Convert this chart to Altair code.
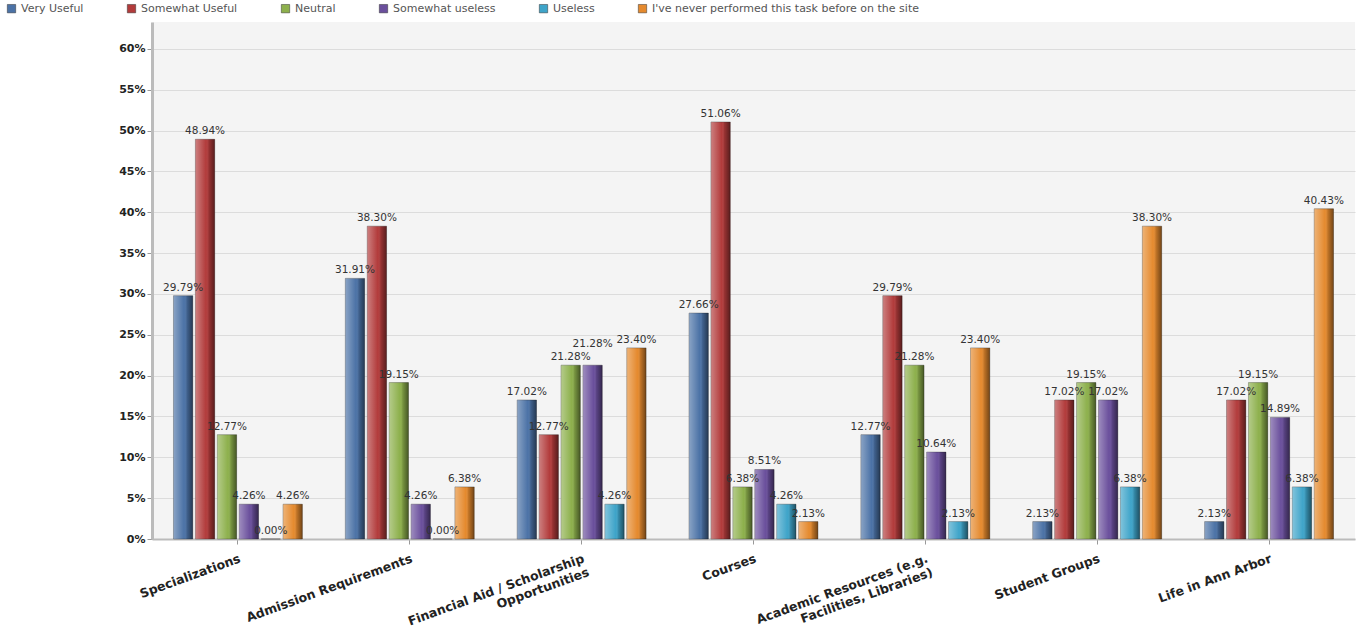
import altair as alt
import pandas as pd

categories = [
    "Specializations",
    "Admission Requirements",
    "Financial Aid / Scholarship\nOpportunities",
    "Courses",
    "Academic Resources (e.g.\nFacilities, Libraries)",
    "Student Groups",
    "Life in Ann Arbor",
]
series = [
    "Very Useful",
    "Somewhat Useful",
    "Neutral",
    "Somewhat useless",
    "Useless",
    "I've never performed this task before on the site",
]
very_useful = [29.79, 31.91, 17.02, 27.66, 12.77, 2.13, 2.13]
somewhat_useful = [48.94, 38.30, 12.77, 51.06, 29.79, 17.02, 17.02]
neutral = [12.77, 19.15, 21.28, 6.38, 21.28, 19.15, 19.15]
somewhat_useless = [4.26, 4.26, 21.28, 8.51, 10.64, 17.02, 14.89]
useless = [0.00, 0.00, 4.26, 4.26, 2.13, 6.38, 6.38]
never = [4.26, 6.38, 23.40, 2.13, 23.40, 38.30, 40.43]
colors = ["#4b72a6", "#b23b3b", "#8db04c", "#6a4f9c", "#3ea4c9", "#e58a2e"]
y_ticks = [0, 5, 10, 15, 20, 25, 30, 35, 40, 45, 50, 55, 60]

all_values = [very_useful, somewhat_useful, neutral, somewhat_useless, useless, never]
rows = []
for si, (s, vals) in enumerate(zip(series, all_values)):
    for c, v in zip(categories, vals):
        rows.append({"category": c, "series": s, "order": si, "value": v})
df = pd.DataFrame(rows)

FONT = "DejaVu Sans"

x_enc = alt.X(
    "category:N",
    sort=categories,
    scale=alt.Scale(paddingInner=0.25, paddingOuter=0.125),
    axis=alt.Axis(
        title=None,
        labelAngle=-20,
        labelAlign="right",
        labelBaseline="top",
        labelFont=FONT,
        labelFontWeight="bold",
        labelFontSize=12.5,
        labelColor="#222",
        labelExpr="split(datum.label, '\\n')",
        labelLimit=400,
        tickColor="#999",
        domainColor="#bbb",
        domainWidth=2,
        labelPadding=8,
    ),
)
xoff = alt.XOffset("series:N", sort=series, scale=alt.Scale(paddingInner=0.12))
y_enc = alt.Y(
    "value:Q",
    scale=alt.Scale(domain=[0, 63.3], nice=False),
    axis=alt.Axis(
        title=None,
        values=y_ticks,
        labelExpr="datum.value + '%'",
        labelFont=FONT,
        labelFontWeight="bold",
        labelFontSize=11,
        labelColor="#222",
        gridColor="#dcdcdc",
        tickColor="#999",
        domainColor="#bbb",
        domainWidth=3,
    ),
)
color_enc = alt.Color(
    "series:N",
    sort=series,
    scale=alt.Scale(domain=series, range=colors),
    legend=alt.Legend(
        title=None,
        orient="none",
        direction="horizontal",
        legendX=-146,
        legendY=-19,
        symbolType="square",
        symbolSize=70,
        symbolStrokeColor="#333",
        symbolStrokeWidth=0.5,
        labelFont=FONT,
        labelFontSize=11,
        labelColor="#555",
        columnPadding=42,
        labelLimit=400,
    ),
)

base = alt.Chart(df)
bars = base.mark_bar(stroke="#2a2a2a", strokeWidth=0.6, strokeOpacity=0.6).encode(
    x=x_enc, xOffset=xoff, y=y_enc, color=color_enc
)
shade = base.mark_bar(
    color=alt.Gradient(
        gradient="linear",
        x1=0, x2=1, y1=0, y2=0,
        stops=[
            alt.GradientStop(offset=0, color="rgba(255,255,255,0.35)"),
            alt.GradientStop(offset=0.55, color="rgba(255,255,255,0.0)"),
            alt.GradientStop(offset=0.7, color="rgba(0,0,0,0.15)"),
            alt.GradientStop(offset=1, color="rgba(0,0,0,0.5)"),
        ],
    )
).encode(x=x_enc, xOffset=xoff, y=y_enc)

labeled = base.transform_window(
    prev="lag(value)", groupby=["category"], sort=[alt.SortField("order")]
).transform_calculate(
    lab="format(datum.value, '.2f') + '%'",
    lift="datum.prev != null && abs(datum.value - datum.prev) < 1 ? 1 : 0",
)
labels = labeled.transform_filter("datum.lift == 0").mark_text(
    dy=-8, fontSize=10.5, font=FONT, color="#333"
).encode(x=x_enc, xOffset=xoff, y=y_enc, text="lab:N")
labels_up = labeled.transform_filter("datum.lift == 1").mark_text(
    dy=-21, fontSize=10.5, font=FONT, color="#333"
).encode(x=x_enc, xOffset=xoff, y=y_enc, text="lab:N")

chart = (
    alt.layer(bars, shade, labels, labels_up)
    .properties(
        width=1203,
        height=517,
        autosize=alt.AutoSizeParams(type="none"),
        padding={"left": 152, "top": 22, "right": 17, "bottom": 90},
        background="white",
    )
    .configure_view(fill="#f4f4f4", stroke=None)
)
chart.save("out.html", embed_options={"renderer": "svg", "actions": False})
